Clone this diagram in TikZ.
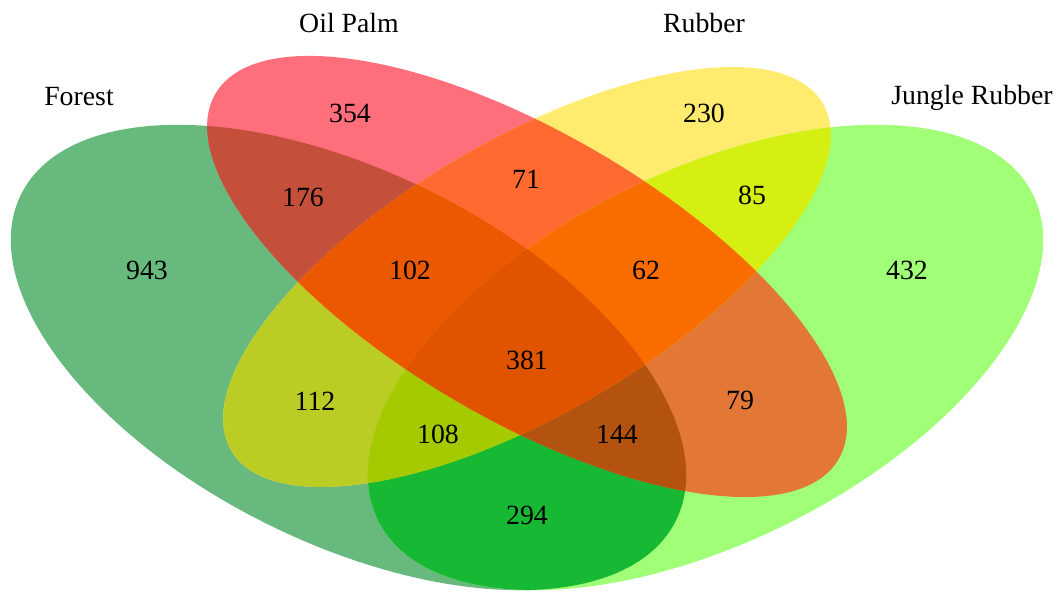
\documentclass[tikz,border=0pt]{standalone}
\usepackage{fontspec}
\setmainfont{Liberation Serif}
\definecolor{cF}{HTML}{67B97D}
\definecolor{cO}{HTML}{FF6E7B}
\definecolor{cR}{HTML}{FFEB6E}
\definecolor{cJ}{HTML}{A0FF76}
\definecolor{cFO}{HTML}{C4503C}
\definecolor{cFR}{HTML}{BBCD24}
\definecolor{cFJ}{HTML}{17B833}
\definecolor{cOR}{HTML}{FF6A30}
\definecolor{cOJ}{HTML}{E37736}
\definecolor{cRJ}{HTML}{D4EF11}
\definecolor{cFOR}{HTML}{EB5800}
\definecolor{cFOJ}{HTML}{B4520F}
\definecolor{cFRJ}{HTML}{A5CB00}
\definecolor{cORJ}{HTML}{F96D00}
\definecolor{cFORJ}{HTML}{E05400}
\newcommand\vclipF{\clip[shift={(348.5,234.5)},rotate=-26.5] (0,0) ellipse [x radius=3.656cm,y radius=1.852cm];}
\newcommand\vclipJ{\clip[shift={(705.5,234.5)},rotate=26.5] (0,0) ellipse [x radius=3.656cm,y radius=1.852cm];}
\newcommand\vclipO{\clip[shift={(527,315.5)},rotate=-30.4] (0,0) ellipse [x radius=3.61cm,y radius=1.43cm];}
\newcommand\vclipR{\clip[shift={(527,315)},rotate=30.4] (0,0) ellipse [x radius=3.427cm,y radius=1.37cm];}
\newcommand\vreg[2]{\begin{scope}#1\fill[#2] (0,0) rectangle (1063,592);\end{scope}}
\begin{document}
\begin{tikzpicture}[x=0.01cm,y=0.01cm,
  lbl/.style={anchor=base,inner sep=0pt,font=\fontsize{7.9}{9.5}\selectfont}]
\useasboundingbox (0,0) rectangle (1063,592);
% single sets
\vreg{\vclipF}{cF}
\vreg{\vclipO}{cO}
\vreg{\vclipR}{cR}
\vreg{\vclipJ}{cJ}
% pairs
\vreg{\vclipF\vclipO}{cFO}
\vreg{\vclipF\vclipR}{cFR}
\vreg{\vclipF\vclipJ}{cFJ}
\vreg{\vclipO\vclipR}{cOR}
\vreg{\vclipO\vclipJ}{cOJ}
\vreg{\vclipR\vclipJ}{cRJ}
% triples
\vreg{\vclipF\vclipO\vclipR}{cFOR}
\vreg{\vclipF\vclipO\vclipJ}{cFOJ}
\vreg{\vclipF\vclipR\vclipJ}{cFRJ}
\vreg{\vclipO\vclipR\vclipJ}{cORJ}
% all
\vreg{\vclipF\vclipO\vclipR\vclipJ}{cFORJ}
% set labels
\node[lbl] (lF) at (79,486) {Forest};
\node[lbl] (lO) at (349,559) {Oil Palm};
\node[lbl] (lR) at (704,559) {Rubber};
\node[lbl] (lJ) at (972,487) {Jungle Rubber};
% counts
\node[lbl] (n943) at (147,312) {943};
\node[lbl] (n354) at (350,469) {354};
\node[lbl] (n230) at (704,469) {230};
\node[lbl] (n432) at (907,312) {432};
\node[lbl] (n176) at (303,385) {176};
\node[lbl] (n71) at (526,403) {71};
\node[lbl] (n85) at (752,387) {85};
\node[lbl] (n102) at (410,312) {102};
\node[lbl] (n62) at (646,312) {62};
\node[lbl] (n381) at (527,222) {381};
\node[lbl] (n112) at (315,181) {112};
\node[lbl] (n79) at (740,182) {79};
\node[lbl] (n108) at (438,148) {108};
\node[lbl] (n144) at (617,148) {144};
\node[lbl] (n294) at (527,67) {294};
\end{tikzpicture}
\end{document}
